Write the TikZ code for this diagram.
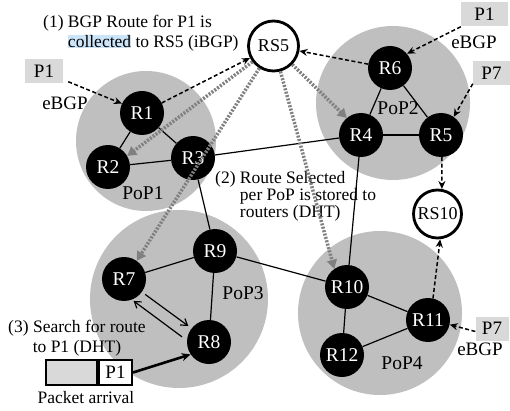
\documentclass[tikz,border=0pt]{standalone}
\usepackage{fontspec}
\setmainfont{Liberation Serif}
\usetikzlibrary{arrows.meta}
\definecolor{popgray}{RGB}{191,191,191}
\definecolor{boxgray}{RGB}{217,217,217}
\definecolor{dotgray}{RGB}{128,128,128}
\definecolor{hl}{RGB}{204,228,247}
\begin{document}
\begin{tikzpicture}[x=1pt,y=-1pt,
  pop/.style={circle, fill=popgray, inner sep=0pt},
  router/.style={circle, fill=black, text=white, minimum size=44pt, inner sep=0pt, font=\fontsize{19.5}{19.5}\selectfont},
  rs/.style={circle, draw=black, line width=2.8pt, fill=white, inner sep=0pt, font=\fontsize{18}{18}\selectfont},
  pbox/.style={fill=boxgray, inner sep=0pt, minimum height=24pt, font=\fontsize{19}{19}\selectfont},
  lbl/.style={inner sep=0pt, font=\fontsize{17.5}{15}\selectfont},
  poplbl/.style={inner sep=0pt, font=\fontsize{19.5}{19.5}\selectfont},
  ebgp/.style={inner sep=0pt, font=\fontsize{19}{19}\selectfont},
  link/.style={line width=1.2pt},
  bgp/.style={line width=1.5pt, dash pattern=on 4pt off 2.5pt, -{Stealth[length=8pt,width=7pt]}},
  dht/.style={line width=3.5pt, draw=dotgray, dash pattern=on 2pt off 1.5pt, -{Triangle[length=9pt,width=10pt,fill=dotgray]}},
  srch/.style={line width=1.2pt, -{Straight Barb[length=6pt,width=8pt]}},
  pkt/.style={line width=2.6pt, -{Stealth[length=9pt,width=8pt]}},
  pk/.style={draw=black, line width=2pt, inner sep=0pt, minimum height=25pt, font=\fontsize{19}{19}\selectfont}
]
\useasboundingbox (0,0) rectangle (510,411);

% PoP areas
\node[pop, minimum size=140pt] (pop1) at (146,141) {};
\node[pop, minimum size=154pt] (pop2) at (393,103) {};
\node[pop, minimum size=178pt] (pop3) at (179,299) {};
\node[pop, minimum size=164pt] (pop4) at (380,313) {};

\node[poplbl] (pop1l) at (143,193) {PoP1};
\node[poplbl] (pop2l) at (398,108) {PoP2};
\node[poplbl] (pop3l) at (243,293) {PoP3};
\node[poplbl] (pop4l) at (402,363) {PoP4};

% routers
\node[router] (R1) at (142,113) {R1};
\node[router] (R2) at (108,167) {R2};
\node[router] (R3) at (193,158) {R3};
\node[router] (R6) at (390,68) {R6};
\node[router] (R4) at (361,135) {R4};
\node[router] (R5) at (441,135) {R5};
\node[router] (R9) at (215,251) {R9};
\node[router] (R7) at (124,279) {R7};
\node[router] (R8) at (209,342) {R8};
\node[router] (R10) at (347,287) {R10};
\node[router] (R11) at (428,320) {R11};
\node[router] (R12) at (342,355) {R12};

% route servers
\node[rs, minimum size=50pt] (RS5) at (273.5,46) {RS5};
\node[rs, minimum size=48pt] (RS10) at (437.5,214) {RS10};

% links
\draw[link] (R1) -- (R2);
\draw[link] (R1) -- (R3);
\draw[link] (R2) -- (R3);
\draw[link] (R3) -- (R4);
\draw[link] (R3) -- (R9);
\draw[link] (R9) -- (R7);
\draw[link] (R9) -- (R8);
\draw[link] (R9) -- (R10);
\draw[link] (R6) -- (R4);
\draw[link] (R6) -- (R5);
\draw[link] (R4) -- (R5);
\draw[link] (R4) -- (R10);
\draw[link] (R10) -- (R11);
\draw[link] (R10) -- (R12);
\draw[link] (R12) -- (R11);

% prefix boxes
\node[pbox, minimum width=38pt] (p1a) at (44,71.5) {P1};
\node[pbox, minimum width=47pt] (p1b) at (484.5,14.5) {P1};
\node[pbox, minimum width=37pt] (p7a) at (491.5,73.5) {P7};
\node[pbox, minimum width=33pt] (p7b) at (492,328.5) {P7};

\node[ebgp, anchor=base] (e1) at (65,110) {eBGP};
\node[ebgp, anchor=base] (e2) at (474,49) {eBGP};
\node[ebgp, anchor=base] (e3) at (480,355) {eBGP};

% eBGP / iBGP arrows
\draw[bgp] ([shift={(5,-2)}]p1a.south east) -- (R1.155);
\draw[bgp] (R1) -- (RS5);
\draw[bgp] (R6.170) -- (RS5);
\draw[bgp] (p1b.south west) -- (R6.40);
\draw[bgp] ([yshift=2pt]p7a.south west) -- (R5.55);
\draw[bgp] (R5.-88) -- (RS10.80);
\draw[bgp] (R11.77) -- (RS10.-84);
\draw[bgp] ([yshift=-3pt]p7b.west) -- (R11.-12);

% texts
\node[lbl, anchor=north west, align=left, font=\fontsize{17.5}{20}\selectfont] (t1) at (43,15)
  {(1) BGP Route for P1 is\\\phantom{(1)} {\fboxsep=0pt\colorbox{hl}{collected}} to RS5 (iBGP)};
\node[lbl, anchor=north west, align=left] (t2) at (215,171)
  {(2) Route Selected\\\phantom{(2)} per PoP is stored to\\\phantom{(2)} routers (DHT)};
\node[lbl, anchor=north, align=center, font=\fontsize{17.5}{20}\selectfont] (t3) at (77,320)
  {(3) Search for route\\to P1 (DHT)};
\node[lbl, anchor=base] (pa) at (86,403) {Packet arrival};

% DHT distribution
\draw[dht] (RS5) -- (R2.30);
\draw[dht] (RS5) -- (R7.55);
\draw[dht] (RS5) -- (R4.130);
\draw[dht] (RS5) -- (R10.125);

% search
\draw[srch, shorten <=4pt, shorten >=4pt] (R7.-36) -- (R8.142);
\draw[srch, shorten <=6pt, shorten >=2pt] (R8.176) -- (R7.-69);

% packet
\node[pk, fill=boxgray, minimum width=51pt] (pkg) at (71.5,372.5) {};
\node[pk, fill=white, minimum width=33pt, anchor=west] (pk1) at (pkg.east) {\hfill P1};
\draw[pkt] (pk1.east) -- (R8.214);
\end{tikzpicture}
\end{document}
